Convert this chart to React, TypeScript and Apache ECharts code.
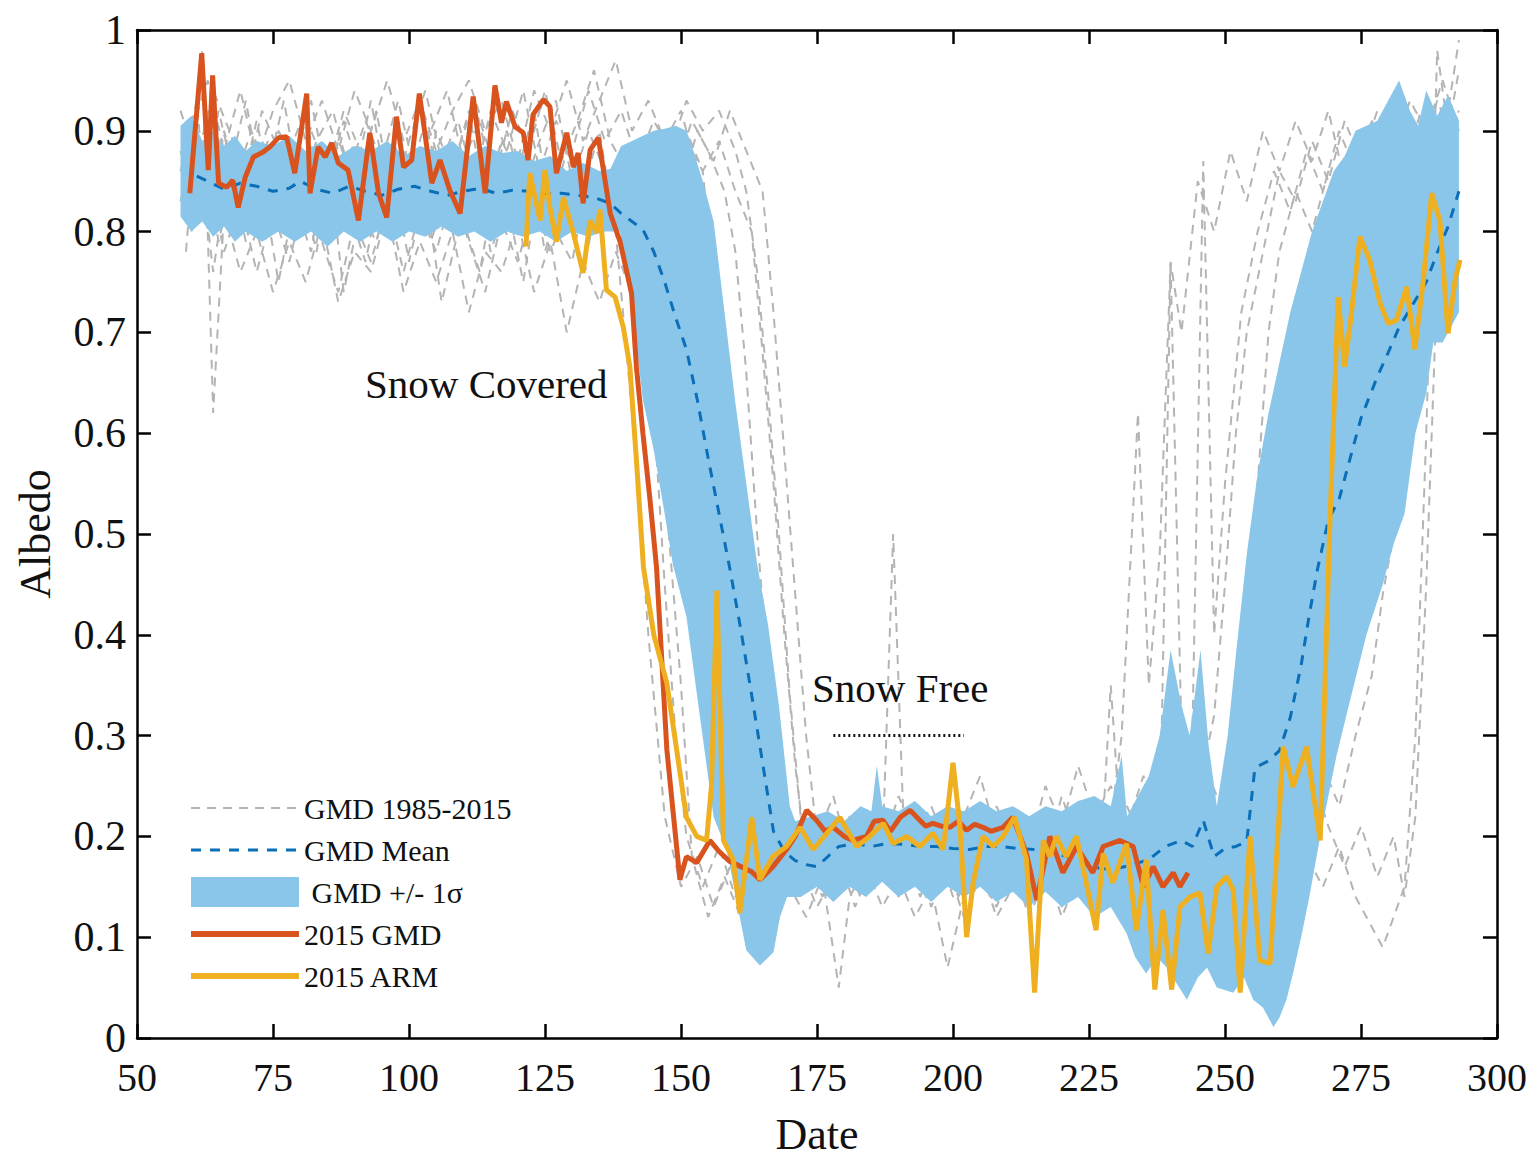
import React, { useEffect, useRef } from "react";
import * as echarts from "echarts";

// ---------- data (day of year, albedo) ----------
const xTicks = [50, 75, 100, 125, 150, 175, 200, 225, 250, 275, 300];

const bandUpper: number[][] = [
  [58,0.905],[60,0.915],[62,0.89],[64,0.9],[66,0.885],[68,0.895],[70,0.88],[72,0.89],[75,0.885],[78,0.895],[81,0.88],[84,0.89],[87,0.875],[90,0.885],[93,0.88],[96,0.89],[99,0.875],[102,0.885],[105,0.88],[108,0.89],[111,0.875],[114,0.885],[117,0.878],[120,0.88],[123,0.87],[126,0.875],[129,0.86],[132,0.868],[135,0.86],[137,0.862],[139,0.885],[141,0.89],[143,0.895],[145,0.9],[147,0.902],[149,0.905],[151,0.9],[152,0.885],[154,0.85],[156,0.81],[158,0.72],[160,0.63],[162,0.55],[164,0.47],[166,0.41],[168,0.33],[170,0.23],[171,0.215],[174,0.22],[177,0.225],[180,0.215],[183,0.23],[185,0.225],[186,0.27],[187,0.23],[190,0.225],[193,0.235],[196,0.22],[199,0.23],[202,0.225],[205,0.235],[208,0.225],[211,0.23],[214,0.22],[217,0.23],[220,0.225],[223,0.235],[226,0.24],[229,0.23],[231,0.28],[232,0.22],[234,0.24],[236,0.26],[238,0.3],[240,0.385],[242,0.33],[243.5,0.3],[245.5,0.385],[247,0.29],[248.5,0.23],[250.5,0.3],[252,0.38],[254,0.48],[256,0.56],[258,0.62],[260,0.67],[262,0.72],[264,0.76],[266,0.8],[268,0.83],[270,0.86],[272,0.875],[274,0.9],[276,0.905],[278,0.91],[280,0.93],[282,0.95],[284,0.92],[285.5,0.905],[287,0.94],[289,0.915],[291,0.935],[293,0.91]
];

const bandLower: number[][] = [
  [58,0.815],[60,0.8],[62,0.81],[64,0.795],[66,0.805],[68,0.79],[70,0.8],[73,0.79],[76,0.8],[79,0.79],[82,0.8],[85,0.785],[88,0.8],[91,0.79],[94,0.8],[97,0.79],[100,0.8],[103,0.795],[106,0.805],[109,0.795],[112,0.8],[115,0.79],[118,0.8],[121,0.795],[124,0.8],[127,0.79],[130,0.8],[133,0.795],[136,0.8],[138.8,0.8],[141,0.725],[143,0.633],[145,0.583],[147,0.52],[148.5,0.47],[151,0.418],[153.5,0.318],[156,0.219],[158.4,0.187],[160.2,0.137],[162,0.087],[164.5,0.072],[167,0.085],[168.2,0.12],[169.5,0.14],[172,0.14],[175,0.15],[178,0.135],[181,0.15],[184,0.14],[187,0.155],[190,0.14],[193,0.15],[196,0.135],[199,0.15],[202,0.14],[205,0.15],[208,0.135],[211,0.145],[214,0.13],[217,0.145],[220,0.13],[223,0.14],[226,0.12],[229,0.13],[231.9,0.104],[233.5,0.08],[235.5,0.064],[237.5,0.08],[239.3,0.07],[241,0.055],[243,0.038],[245,0.06],[246.7,0.07],[248.5,0.05],[251.5,0.045],[253.5,0.06],[255.2,0.038],[257,0.03],[258.9,0.011],[260,0.02],[261.3,0.038],[262.5,0.064],[264,0.1],[265.5,0.14],[267.5,0.2],[270.5,0.28],[273,0.335],[276,0.4],[279,0.45],[281,0.49],[283,0.52],[285,0.6],[287,0.64],[288.3,0.69],[290,0.69],[292,0.71],[293,0.72]
];

const gmdMean: number[][] = [
  [61,0.855],[63,0.85],[66,0.842],[69,0.848],[72,0.845],[75,0.84],[78,0.843],[80,0.85],[83,0.842],[86,0.838],[89,0.845],[92,0.84],[95,0.836],[98,0.842],[101,0.845],[104,0.84],[107,0.836],[110,0.84],[113,0.843],[116,0.838],[119,0.841],[122,0.84],[125,0.838],[128,0.838],[131,0.836],[134,0.834],[137,0.828],[139,0.818],[141,0.81],[143,0.802],[145,0.78],[147,0.75],[149,0.715],[151,0.683],[153,0.633],[155,0.575],[157,0.52],[159,0.465],[161,0.405],[163,0.34],[165,0.273],[167,0.205],[169,0.185],[171,0.176],[173,0.172],[175,0.17],[177,0.18],[179,0.19],[182,0.193],[185,0.19],[188,0.193],[191,0.192],[194,0.19],[197,0.19],[200,0.188],[203,0.187],[206,0.19],[209,0.19],[212,0.188],[215,0.187],[218,0.184],[221,0.18],[224,0.175],[227,0.168],[230,0.168],[233,0.172],[236,0.177],[239,0.19],[242,0.196],[244,0.19],[246,0.216],[248,0.18],[250,0.188],[252,0.19],[254,0.195],[255.5,0.268],[258,0.275],[260,0.285],[262,0.318],[264,0.37],[265.5,0.42],[267,0.465],[269,0.514],[271,0.535],[273,0.575],[275,0.615],[278,0.656],[280,0.68],[282,0.705],[285,0.732],[287,0.75],[289,0.779],[291,0.805],[293,0.84]
];

const gmd2015: number[][] = [
  [59.7,0.838],[61.9,0.977],[63.1,0.861],[63.9,0.955],[65,0.848],[66.5,0.844],[67.6,0.851],[68.6,0.824],[69.9,0.854],[71.4,0.874],[73.2,0.879],[74.4,0.884],[76,0.893],[77.5,0.894],[79,0.858],[81.2,0.937],[81.8,0.838],[83.3,0.884],[84.6,0.874],[85.8,0.888],[87,0.868],[88.8,0.861],[90.7,0.811],[92.8,0.898],[94.4,0.838],[95.9,0.814],[97.7,0.914],[99,0.864],[100.5,0.871],[101.9,0.937],[104.2,0.848],[105.7,0.871],[107.5,0.841],[109.4,0.818],[111.8,0.934],[114,0.838],[115.8,0.945],[117,0.908],[117.9,0.929],[119.5,0.904],[121,0.898],[121.9,0.871],[122.8,0.916],[124.7,0.931],[125.9,0.924],[127.1,0.858],[129,0.898],[130.2,0.864],[131.1,0.878],[132,0.828],[133.3,0.881],[134.8,0.893],[137,0.818],[138.8,0.79],[140.9,0.739],[141.8,0.666],[143,0.6],[144.3,0.534],[145.5,0.467],[147.4,0.286],[149.8,0.157],[151,0.18],[152.9,0.174],[155.3,0.196],[157,0.185],[159,0.175],[161,0.17],[163,0.165],[164.5,0.157],[166.9,0.17],[169.4,0.187],[171,0.2],[173.1,0.226],[174.9,0.216],[176.5,0.205],[178,0.209],[180,0.2],[181.6,0.196],[184.1,0.2],[185.5,0.215],[187.1,0.216],[188.5,0.205],[190.3,0.219],[192.1,0.226],[193.9,0.216],[195,0.21],[196.3,0.213],[198,0.21],[199.4,0.209],[201,0.215],[202.5,0.206],[204,0.212],[205.5,0.209],[207,0.205],[209.2,0.209],[211,0.219],[213.5,0.183],[215.4,0.137],[217.8,0.2],[220.2,0.164],[222.7,0.19],[225.7,0.164],[227.6,0.19],[230.7,0.196],[233.1,0.19],[235,0.15],[236.8,0.17],[238.6,0.15],[240.5,0.164],[241.7,0.15],[243.2,0.164]
];

const arm2015: number[][] = [
  [121.5,0.785],[122.2,0.858],[124.1,0.811],[125,0.861],[125.9,0.824],[127.1,0.79],[128.4,0.834],[130.2,0.799],[132,0.759],[133.3,0.811],[134.5,0.799],[135.1,0.822],[136.3,0.742],[137.9,0.735],[139.4,0.705],[140.6,0.666],[141.9,0.566],[143.1,0.467],[145,0.4],[147.4,0.352],[149.2,0.286],[151,0.219],[152.9,0.2],[154.7,0.196],[155.6,0.25],[156.6,0.444],[157.8,0.196],[159.6,0.177],[160.8,0.124],[163,0.219],[164.5,0.157],[166.9,0.18],[169.4,0.19],[171.9,0.209],[174.3,0.187],[176.8,0.203],[179.2,0.219],[182.3,0.19],[184.7,0.2],[187.2,0.213],[189,0.193],[191.5,0.2],[193.9,0.19],[196.3,0.203],[198.2,0.187],[200,0.273],[201.3,0.209],[202.5,0.1],[203.7,0.154],[205.5,0.2],[207.4,0.19],[209.2,0.2],[211.3,0.219],[213.5,0.177],[215,0.045],[216.6,0.196],[217.8,0.18],[219,0.2],[220.8,0.18],[222.7,0.2],[224.5,0.154],[226.3,0.107],[227.6,0.183],[229.4,0.154],[231.9,0.193],[233.7,0.107],[235.5,0.177],[237.1,0.048],[238.6,0.127],[240.2,0.048],[241.7,0.13],[243.6,0.14],[245.4,0.144],[246.9,0.084],[248.5,0.15],[250.3,0.16],[251.5,0.147],[252.8,0.045],[254.6,0.2],[256.4,0.077],[258.3,0.074],[260.7,0.289],[262.5,0.249],[265,0.289],[267.5,0.196],[269.3,0.514],[270.8,0.735],[272,0.666],[273.3,0.722],[274.8,0.795],[276.6,0.772],[278.5,0.729],[280,0.709],[281.5,0.712],[283.4,0.745],[284.9,0.683],[286.4,0.749],[288,0.838],[289.5,0.811],[291,0.699],[292.3,0.752],[293.2,0.772]
];

// individual GMD years (representative)
const grey1: number[][] = [
  [58,0.86],[61,0.93],[63,0.8],[66,0.9],[69,0.84],[72,0.91],[75,0.83],[78,0.88],[81,0.92],[84,0.82],[87,0.89],[90,0.85],[93,0.93],[96,0.84],[99,0.88],[102,0.8],[105,0.9],[108,0.86],[111,0.92],[114,0.83],[117,0.89],[120,0.86],[123,0.92],[126,0.82],[129,0.88],[132,0.84],[135,0.9],[138,0.8],[141,0.62],[144,0.4],[147,0.22],[150,0.15],[153,0.18],[156,0.13],[159,0.17],[162,0.15],[165,0.19],[168,0.14],[171,0.17],[174,0.2],[177,0.15],[180,0.18],[183,0.14],[186,0.19],[189,0.16],[192,0.21],[195,0.15],[198,0.18],[201,0.14],[204,0.19],[207,0.16],[210,0.2],[213,0.15],[216,0.18],[219,0.22],[222,0.16],[225,0.2],[228,0.17],[231,0.3],[234,0.62],[236,0.35],[238,0.48],[240,0.77],[242,0.7],[245,0.85],[248,0.8],[251,0.88],[254,0.83],[257,0.9],[260,0.86],[263,0.91],[266,0.87],[269,0.92],[272,0.85],[275,0.9],[278,0.88],[281,0.93],[284,0.86],[287,0.91],[290,0.88],[293,0.92]
];
const grey2: number[][] = [
  [59,0.78],[62,0.98],[64,0.62],[66,0.82],[69,0.76],[72,0.8],[75,0.74],[78,0.79],[81,0.75],[84,0.81],[87,0.73],[90,0.78],[93,0.76],[96,0.82],[99,0.74],[102,0.79],[105,0.75],[108,0.8],[111,0.72],[114,0.78],[117,0.76],[120,0.81],[123,0.74],[126,0.79],[129,0.7],[132,0.77],[135,0.73],[138,0.78],[141,0.74],[144,0.7],[147,0.55],[150,0.35],[152,0.18],[155,0.12],[158,0.16],[161,0.12],[164,0.15],[167,0.11],[170,0.15],[173,0.12],[176,0.16],[179,0.05],[181,0.14],[184,0.17],[187,0.13],[190,0.16],[193,0.12],[196,0.15],[199,0.07],[202,0.14],[205,0.17],[208,0.12],[211,0.15],[214,0.13],[217,0.17],[220,0.12],[223,0.16],[226,0.13],[229,0.18],[232,0.14],[235,0.19],[238,0.15],[241,0.2],[244,0.3],[246,0.87],[248,0.4],[250,0.55],[253,0.72],[256,0.8],[259,0.86],[262,0.82],[265,0.88],[268,0.84],[271,0.9],[274,0.86],[277,0.91],[280,0.88],[283,0.92],[286,0.87],[289,0.93],[292,0.89]
];
const grey3: number[][] = [
  [60,0.9],[63,0.95],[66,0.88],[69,0.94],[72,0.87],[75,0.92],[78,0.95],[81,0.89],[84,0.93],[87,0.88],[90,0.94],[93,0.9],[96,0.95],[99,0.89],[102,0.93],[105,0.88],[108,0.92],[111,0.95],[114,0.9],[117,0.93],[120,0.87],[123,0.94],[126,0.9],[129,0.95],[132,0.89],[135,0.93],[138,0.97],[141,0.9],[144,0.93],[147,0.89],[150,0.92],[152,0.88],[154,0.86],[156,0.75],[158,0.62],[160,0.48],[162,0.35],[164,0.24],[166,0.18],[169,0.14],[172,0.17],[175,0.13],[178,0.16],[181,0.2],[184,0.15],[187,0.18],[189,0.5],[191,0.2],[194,0.16],[197,0.19],[200,0.14],[203,0.18],[206,0.21],[209,0.16],[212,0.19],[215,0.15],[218,0.2],[221,0.17],[224,0.21],[227,0.16],[229,0.35],[231,0.19],[234,0.17],[237,0.2],[240,0.16],[243,0.19],[246,0.15],[249,0.18],[252,0.2],[254,0.35],[256,0.55],[258,0.7],[260,0.78],[263,0.84],[266,0.8],[269,0.86],[272,0.82],[275,0.88],[278,0.84],[281,0.9],[284,0.85],[287,0.89],[290,0.84],[293,0.88]
];
const grey4: number[][] = [
  [59,0.84],[62,0.88],[65,0.79],[68,0.86],[71,0.81],[74,0.89],[77,0.8],[80,0.85],[83,0.78],[86,0.87],[89,0.82],[92,0.77],[95,0.85],[98,0.8],[101,0.88],[104,0.79],[107,0.84],[110,0.81],[113,0.76],[116,0.85],[119,0.8],[122,0.87],[125,0.78],[128,0.84],[131,0.8],[134,0.86],[137,0.82],[140,0.88],[143,0.84],[146,0.9],[149,0.86],[152,0.91],[155,0.88],[158,0.84],[160,0.78],[162,0.66],[164,0.5],[166,0.36],[168,0.25],[170,0.18],[173,0.15],[176,0.19],[179,0.16],[182,0.21],[185,0.17],[188,0.22],[191,0.18],[194,0.14],[197,0.19],[200,0.16],[203,0.21],[206,0.17],[209,0.22],[212,0.18],[215,0.15],[218,0.19],[221,0.16],[224,0.22],[227,0.18],[230,0.15],[233,0.2],[236,0.17],[239,0.21],[242,0.18],[245,0.22],[248,0.18],[251,0.23],[254,0.2],[257,0.26],[260,0.35],[262,0.48],[264,0.6],[266,0.72],[268,0.8],[271,0.85],[274,0.89],[277,0.84],[280,0.9],[283,0.86],[286,0.92],[289,0.88],[292,0.93]
];
const grey5: number[][] = [
  [58,0.88],[61,0.82],[64,0.91],[67,0.86],[70,0.93],[73,0.84],[76,0.9],[79,0.87],[82,0.93],[85,0.85],[88,0.91],[91,0.86],[94,0.92],[97,0.83],[100,0.89],[103,0.94],[106,0.87],[109,0.91],[112,0.85],[115,0.92],[118,0.88],[121,0.94],[124,0.86],[127,0.91],[130,0.88],[133,0.94],[136,0.89],[139,0.92],[142,0.87],[145,0.91],[148,0.88],[151,0.93],[154,0.9],[157,0.92],[160,0.88],[162,0.84],[164,0.76],[166,0.64],[168,0.5],[170,0.34],[172,0.22],[175,0.17],[178,0.2],[181,0.16],[184,0.22],[187,0.18],[190,0.21],[193,0.17],[196,0.22],[199,0.18],[202,0.21],[205,0.17],[208,0.23],[211,0.19],[214,0.22],[217,0.18],[220,0.24],[223,0.19],[226,0.22],[229,0.18],[232,0.23],[235,0.19],[238,0.24],[241,0.2],[244,0.23],[247,0.19],[250,0.24],[253,0.2],[256,0.25],[259,0.21],[262,0.26],[265,0.22],[268,0.27],[271,0.23],[274,0.3],[277,0.36],[279,0.44],[281,0.5],[283,0.58],[285,0.66],[287,0.74],[289,0.82],[291,0.88],[293,0.92]
];
const grey6: number[][] = [
  [60,0.8],[63,0.86],[66,0.78],[69,0.83],[72,0.76],[75,0.82],[78,0.77],[81,0.84],[84,0.79],[87,0.74],[90,0.81],[93,0.77],[96,0.83],[99,0.76],[102,0.82],[105,0.78],[108,0.84],[111,0.79],[114,0.74],[117,0.81],[120,0.77],[123,0.83],[126,0.78],[129,0.82],[132,0.76],[135,0.84],[138,0.8],[141,0.85],[144,0.82],[147,0.88],[150,0.84],[153,0.9],[156,0.87],[159,0.92],[162,0.88],[165,0.84],[167,0.72],[169,0.58],[171,0.44],[173,0.3],[175,0.2],[178,0.16],[181,0.2],[184,0.15],[187,0.19],[190,0.14],[193,0.18],[196,0.13],[199,0.17],[202,0.12],[205,0.16],[208,0.13],[211,0.17],[214,0.12],[217,0.16],[220,0.13],[223,0.17],[226,0.14],[229,0.18],[232,0.14],[235,0.17],[238,0.13],[241,0.16],[244,0.12],[247,0.15],[250,0.12],[253,0.16],[256,0.13],[259,0.17],[262,0.14],[265,0.18],[268,0.15],[271,0.19],[274,0.14],[277,0.11],[279,0.09],[281,0.12],[283,0.15],[285,0.3],[287,0.6],[289,0.98],[291,0.9],[293,0.96]
];
const grey7: number[][] = [
  [58,0.92],[61,0.87],[64,0.94],[67,0.9],[70,0.85],[73,0.92],[76,0.88],[79,0.83],[82,0.9],[85,0.86],[88,0.92],[91,0.88],[94,0.82],[97,0.89],[100,0.85],[103,0.91],[106,0.84],[109,0.88],[112,0.93],[115,0.86],[118,0.9],[121,0.84],[124,0.89],[127,0.93],[130,0.85],[133,0.9],[136,0.86],[139,0.82],[142,0.88],[145,0.84],[148,0.78],[151,0.7],[154,0.58],[157,0.45],[160,0.32],[163,0.22],[166,0.16],[169,0.19],[172,0.15],[175,0.2],[178,0.24],[181,0.18],[184,0.22],[187,0.19],[190,0.24],[193,0.2],[196,0.23],[199,0.19],[202,0.22],[205,0.26],[208,0.2],[211,0.23],[214,0.19],[217,0.25],[220,0.21],[223,0.27],[226,0.22],[229,0.25],[232,0.21],[235,0.26],[238,0.22],[241,0.25],[244,0.21],[247,0.26],[250,0.22],[253,0.27],[256,0.24],[259,0.3],[262,0.26],[265,0.35],[268,0.42],[271,0.52],[274,0.62],[277,0.7],[280,0.66],[283,0.75],[286,0.82],[289,0.88],[292,0.85]
];
const grey8: number[][] = [
  [58,0.83],[61,0.9],[64,0.76],[67,0.87],[70,0.79],[73,0.85],[76,0.75],[79,0.83],[82,0.78],[85,0.88],[88,0.74],[91,0.82],[94,0.79],[97,0.86],[100,0.77],[103,0.84],[106,0.73],[109,0.8],[112,0.87],[115,0.78],[118,0.83],[121,0.75],[124,0.85],[127,0.8],[130,0.77],[133,0.86],[136,0.81],[139,0.87],[142,0.83],[145,0.89],[148,0.85],[151,0.9],[154,0.86],[157,0.89],[160,0.84],[163,0.8],[165,0.68],[167,0.55],[169,0.4],[171,0.27],[173,0.18],[176,0.14],[179,0.18],[182,0.13],[185,0.17],[188,0.21],[191,0.15],[194,0.19],[197,0.14],[200,0.18],[203,0.15],[206,0.19],[209,0.14],[212,0.18],[215,0.15],[218,0.2],[221,0.15],[224,0.19],[227,0.16],[230,0.21],[233,0.16],[236,0.2],[239,0.17],[242,0.21],[245,0.17],[248,0.22],[251,0.18],[254,0.23],[257,0.19],[260,0.24],[263,0.2],[266,0.26],[269,0.21],[272,0.17],[275,0.21],[278,0.16],[281,0.2],[283,0.14],[285,0.22],[287,0.45],[289,0.75],[291,0.92],[293,0.99]
];
const grey9: number[][] = [
  [59,0.87],[62,0.83],[65,0.92],[68,0.85],[71,0.9],[74,0.86],[77,0.93],[80,0.84],[83,0.89],[86,0.92],[89,0.86],[92,0.91],[95,0.87],[98,0.93],[101,0.86],[104,0.9],[107,0.94],[110,0.87],[113,0.91],[116,0.86],[119,0.92],[122,0.88],[125,0.94],[128,0.87],[131,0.91],[134,0.96],[137,0.89],[140,0.86],[143,0.78],[145,0.62],[147,0.45],[149,0.3],[151,0.2],[154,0.15],[157,0.19],[160,0.14],[163,0.18],[166,0.15],[169,0.2],[172,0.16],[175,0.21],[178,0.17],[181,0.22],[184,0.18],[187,0.2],[190,0.16],[193,0.21],[196,0.17],[199,0.2],[202,0.16],[205,0.21],[208,0.18],[211,0.22],[214,0.17],[217,0.21],[220,0.18],[223,0.23],[226,0.19],[229,0.22],[232,0.18],[235,0.23],[238,0.2],[240,0.77],[242,0.3],[245,0.24],[248,0.32],[250,0.45],[252,0.6],[254,0.7],[257,0.78],[260,0.86],[263,0.83],[266,0.89],[269,0.85],[272,0.91],[275,0.87],[278,0.92],[281,0.88],[284,0.93],[287,0.9],[290,0.95],[293,0.9]
];
const greyYears = [grey1, grey2, grey3, grey4, grey5, grey6, grey7, grey8, grey9];

const snowFreeBar: number[][] = [[178, 0.3], [202, 0.3]];

// ---------- styles ----------
const FONT = "'Liberation Serif', 'Times New Roman', serif";
const C_GREY = "#b4b4b4";
const C_MEAN = "#0a6fb8";
const C_BAND = "#8ac6e9";
const C_GMD = "#d9531e";
const C_ARM = "#eeb021";
const NAME_GREY = "GMD 1985-2015";
const NAME_MEAN = "GMD Mean";
const NAME_BAND = "GMD +/- 1σ";
const NAME_GMD = "2015 GMD";
const NAME_ARM = "2015 ARM";

export default function App() {
  const ref = useRef<HTMLDivElement>(null);
  useEffect(() => {
    if (!ref.current) return;
    document.body.style.margin = "0";
    document.body.style.overflow = "hidden";
    const chart = echarts.init(ref.current, undefined, { renderer: "svg" });

    const axisLine = { show: true, onZero: false, lineStyle: { color: "#000", width: 2.5 } };
    const axisTick = { show: true, inside: true, length: 14, lineStyle: { color: "#000", width: 2.5 } };
    const label = { fontFamily: FONT, color: "#111" };

    const greySeries = greyYears.map((d) => ({
      type: "line",
      name: NAME_GREY,
      data: d,
      showSymbol: false,
      symbol: "none",
      z: 1,
      lineStyle: { color: C_GREY, width: 2, type: [9, 7] },
      itemStyle: { color: C_GREY },
      silent: true,
    }));

    const option: any = {
      animation: false,
      backgroundColor: "#fff",
      grid: { left: 137, right: 40, top: 30, bottom: 119, containLabel: false, outerBoundsMode: "none" },
      xAxis: [
        {
          type: "value", min: 50, max: 300, interval: 25, position: "bottom",
          axisLine, axisTick, splitLine: { show: false },
          axisLabel: { ...label, fontSize: 40, margin: 19, customValues: xTicks },
          name: "Date", nameLocation: "middle", nameGap: 78,
          nameTextStyle: { fontFamily: FONT, fontSize: 44, lineHeight: 36, color: "#111" },
        },
        {
          type: "value", min: 50, max: 300, interval: 25, position: "top",
          axisLine, axisTick, splitLine: { show: false }, axisLabel: { show: false },
        },
      ],
      yAxis: [
        {
          type: "value", min: 0, max: 1, interval: 0.1, position: "left",
          axisLine, axisTick, splitLine: { show: false },
          axisLabel: { ...label, fontSize: 42, margin: 11 },
          name: "Albedo", nameLocation: "middle", nameGap: 80,
          nameTextStyle: { fontFamily: FONT, fontSize: 44, color: "#111" },
        },
        {
          type: "value", min: 0, max: 1, interval: 0.1, position: "right",
          axisLine, axisTick, splitLine: { show: false }, axisLabel: { show: false },
        },
      ],
      legend: {
        orient: "vertical",
        left: 188,
        top: 793,
        padding: 0,
        itemWidth: 108,
        itemHeight: 30,
        itemGap: 12,
        itemStyle: { opacity: 0 },
        textStyle: { fontFamily: FONT, fontSize: 30, color: "#111" },
        formatter: (n: string) => (n === NAME_BAND ? " " + n : n),
        data: [
          { name: NAME_GREY, lineStyle: { width: 2, type: [9, 7], color: C_GREY } },
          { name: NAME_MEAN, lineStyle: { width: 3, type: [10, 9], color: C_MEAN } },
          { name: NAME_BAND, icon: "rect", itemStyle: { opacity: 1, color: C_BAND } },
          { name: NAME_GMD, lineStyle: { width: 6, color: C_GMD } },
          { name: NAME_ARM, lineStyle: { width: 6, color: C_ARM } },
        ],
      },
      series: [
        ...greySeries,
        {
          type: "custom",
          name: NAME_BAND,
          z: 2,
          silent: true,
          itemStyle: { color: C_BAND },
          data: [[bandUpper[0][0], bandUpper[0][1]]],
          renderItem: (params: any, api: any) => {
            if (params.dataIndex !== 0) return null;
            const pts = bandUpper
              .map((p) => api.coord(p))
              .concat(bandLower.slice().reverse().map((p) => api.coord(p)));
            return { type: "polygon", shape: { points: pts }, style: { fill: C_BAND } };
          },
        },
        {
          type: "line", name: NAME_MEAN, data: gmdMean, showSymbol: false, symbol: "none", z: 3,
          lineStyle: { color: C_MEAN, width: 3, type: [10, 9] }, itemStyle: { color: C_MEAN },
        },
        {
          type: "line", name: NAME_GMD, data: gmd2015, showSymbol: false, symbol: "none", z: 4,
          lineStyle: { color: C_GMD, width: 5 }, itemStyle: { color: C_GMD },
        },
        {
          type: "line", name: NAME_ARM, data: arm2015, showSymbol: false, symbol: "none", z: 5,
          lineStyle: { color: C_ARM, width: 5 }, itemStyle: { color: C_ARM },
        },
        {
          type: "line", name: "snow-free-marker", data: snowFreeBar, showSymbol: false, symbol: "none", z: 6,
          lineStyle: { color: "#111", width: 3, type: [2, 3] }, silent: true,
        },
      ],
      graphic: [
        {
          type: "text", left: 365, top: 363, z: 10,
          style: { text: "Snow Covered", font: `41px ${FONT}`, fill: "#111" },
        },
        {
          type: "text", left: 812, top: 667, z: 10,
          style: { text: "Snow Free", font: `41px ${FONT}`, fill: "#111" },
        },
      ],
    };
    chart.setOption(option);
    return () => chart.dispose();
  }, []);

  return <div ref={ref} style={{ width: 1537, height: 1157 }} />;
}
